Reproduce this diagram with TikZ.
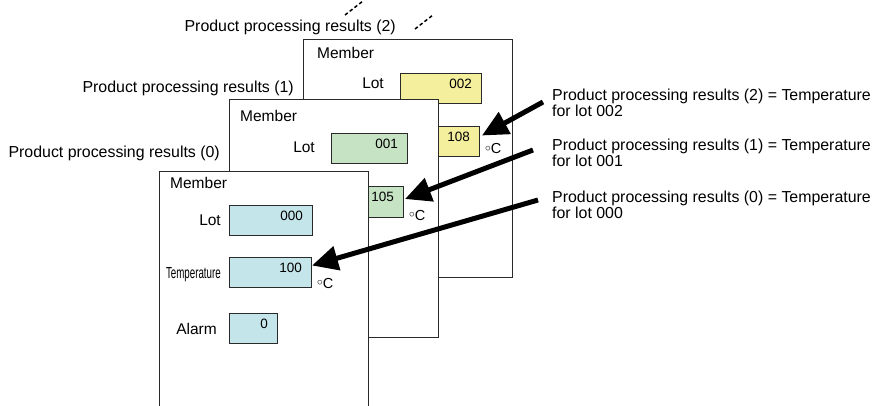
\documentclass[tikz,border=0pt]{standalone}
\usepackage{fontspec}
\setmainfont{Liberation Sans}
\usepackage{graphicx}
\usetikzlibrary{arrows.meta,calc}
\definecolor{boxY}{HTML}{F3EF9D}
\definecolor{boxG}{HTML}{C6E4C3}
\definecolor{boxB}{HTML}{C4E6EA}
\definecolor{edge}{HTML}{2A2A2A}
\newcommand{\degC}{\raisebox{2.4pt}{\scalebox{0.8}{\(\circ\)}}C}
\tikzset{
  panel/.style={draw=edge, line width=1pt, fill=white, anchor=north west, inner sep=0pt, minimum width=209pt, minimum height=238pt},
  vbox/.style={draw=edge, line width=1pt, anchor=north west, inner sep=0pt},
  val/.style={anchor=base east, inner sep=0pt, font=\fontsize{13.5}{15}\selectfont},
  lbl/.style={anchor=base east, inner sep=0pt, font=\fontsize{15.5}{16}\selectfont},
  plbl/.style={anchor=base east, inner sep=0pt, font=\fontsize{15.9}{16}\selectfont},
  mem/.style={anchor=base west, inner sep=0pt, font=\fontsize{15.5}{16}\selectfont},
  unit/.style={anchor=base west, inner sep=0pt, font=\fontsize{14.5}{16}\selectfont},
  note/.style={anchor=north west, inner sep=0pt, align=left, font=\fontsize{15.9}{16}\selectfont},
  bigarrow/.style={line width=5pt, -{Triangle[length=26pt,width=24pt]}},
  more/.style={line width=1.5pt, dash pattern=on 3.5pt off 2.5pt}
}
\begin{document}
\begin{tikzpicture}[x=1pt,y=-1pt]
\clip (0,0) rectangle (877,406);
\useasboundingbox (0,0) rectangle (877,406);
% stacking hints
\draw[more] (345,15) -- (363,1);
\draw[more] (415,29) -- (433,15);
% panel labels
\node[plbl] (l2) at (396,32) {Product processing results (2)};
\node[plbl] (l1) at (294,93) {Product processing results (1)};
\node[plbl] (l0) at (220,158) {Product processing results (0)};
% panel 2
\node[panel] (p2) at (303,39) {};
\node[mem] (m2) at (317,59) {Member};
\node[lbl] (lot2l) at (384,89) {Lot};
\node[vbox, fill=boxY, minimum width=81pt, minimum height=30pt] (lot2) at (400,73) {};
\node[val] (lot2v) at ($(lot2.north east)+(-10,15.5)$) {002};
\node[vbox, fill=boxY, minimum width=81pt, minimum height=30pt] (t2) at (398,126) {};
\node[val] (t2v) at ($(t2.north east)+(-10,15.5)$) {108};
\node[unit] (u2) at ($(t2.south east)+(5,-3)$) {\degC};
% panel 1
\node[panel] (p1) at (229,99) {};
\node[mem] (m1) at (240,122) {Member};
\node[lbl] (lot1l) at (315,153) {Lot};
\node[vbox, fill=boxG, minimum width=76pt, minimum height=30pt] (lot1) at (331,133) {};
\node[val] (lot1v) at ($(lot1.north east)+(-10,15.5)$) {001};
\node[vbox, fill=boxG, minimum width=80pt, minimum height=31pt] (t1) at (323,186) {};
\node[val] (t1v) at ($(t1.north east)+(-10,15.5)$) {105};
\node[unit] (u1) at ($(t1.south east)+(5,2)$) {\degC};
% panel 0
\node[panel, minimum height=245pt] (p0) at (159,171) {};
\node[mem] (m0) at (170,189) {Member};
\node[lbl] (lot0l) at (221,225) {Lot};
\node[vbox, fill=boxB, minimum width=83pt, minimum height=30pt] (lot0) at (229,205) {};
\node[val] (lot0v) at ($(lot0.north east)+(-10,15.5)$) {000};
\node[lbl, font=\fontsize{16}{16}\selectfont] (tl0) at (221,278) {\scalebox{0.61}[1]{Temperature}};
\node[vbox, fill=boxB, minimum width=82pt, minimum height=30pt] (t0) at (229,257) {};
\node[val] (t0v) at ($(t0.north east)+(-10,15.5)$) {100};
\node[unit] (u0) at ($(t0.south east)+(5,0)$) {\degC};
\node[lbl] (al0l) at (217,334) {Alarm};
\node[vbox, fill=boxB, minimum width=48pt, minimum height=30pt] (al0) at (229,313) {};
\node[val] (al0v) at ($(al0.north east)+(-10,15.5)$) {0};
% notes
\node[note] (n2) at (552,89) {Product processing results (2) = Temperature\\for lot 002};
\node[note] (n1) at (552,139) {Product processing results (1) = Temperature\\for lot 001};
\node[note] (n0) at (552,191) {Product processing results (0) = Temperature\\for lot 000};
% arrows
\coordinate (a2s) at (543,102);
\coordinate (a1s) at (533,150);
\coordinate (a0s) at (538,200);
\draw[bigarrow] (a2s) -- ($(t2.east)+(2,-6)$);
\draw[bigarrow] (a1s) -- ($(t1.east)+(1,-3)$);
\draw[bigarrow] (a0s) -- ($(t0.east)+(0,-7)$);
\end{tikzpicture}
\end{document}
